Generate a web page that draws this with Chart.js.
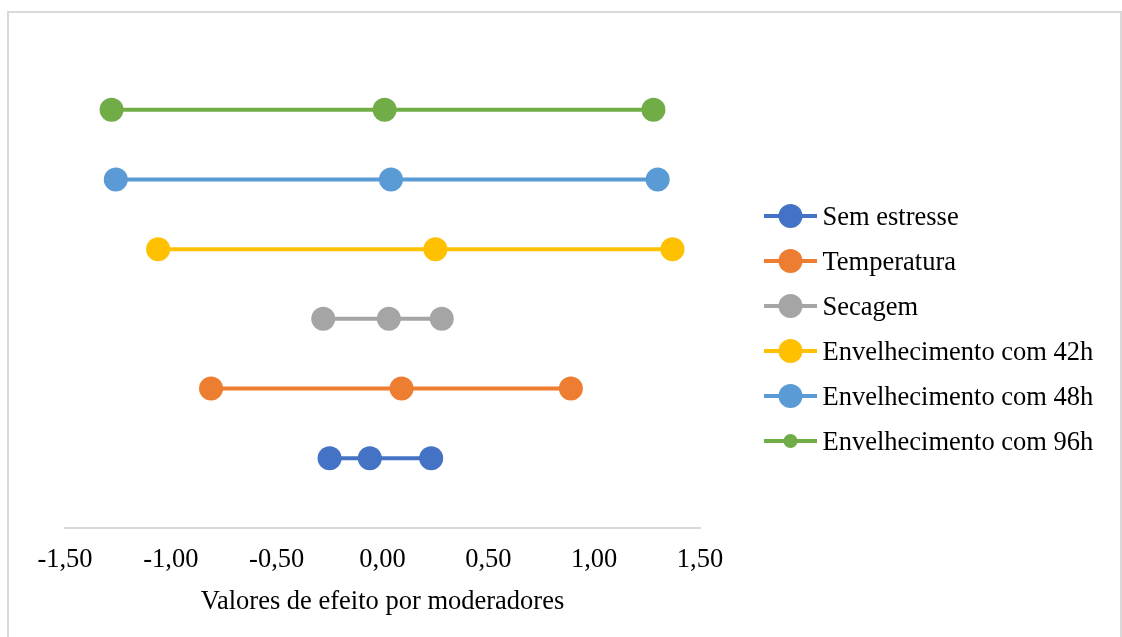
<!DOCTYPE html>
<html>
<head>
<meta charset="utf-8">
<title>Valores de efeito por moderadores</title>
<script src="https://cdn.jsdelivr.net/npm/chart.js@4/dist/chart.umd.min.js"></script>
<style>
  html, body { margin: 0; padding: 0; background: #ffffff; }
  #wrap { position: relative; width: 1122px; height: 637px; }
</style>
</head>
<body>
<div id="wrap"><canvas id="chart" width="1122" height="637"></canvas></div>
<script>
// Moderator groups, one row each (bottom to top)
const categories = [
  'Sem estresse',
  'Temperatura',
  'Secagem',
  'Envelhecimento com 42h',
  'Envelhecimento com 48h',
  'Envelhecimento com 96h'
];
const rowPositions = [1, 2, 3, 4, 5, 6];

// Effect values per moderator: lower limit, estimate, upper limit
const lowValues  = [-0.25, -0.81, -0.28, -1.06, -1.26, -1.28];
const midValues  = [-0.06,  0.09,  0.03,  0.25,  0.04,  0.01];
const highValues = [ 0.23,  0.89,  0.28,  1.37,  1.30,  1.28];

// Series colours
const seriesColors = ['#4472C4', '#ED7D31', '#A5A5A5', '#FFC000', '#5B9BD5', '#70AD47'];

// X axis tick range
const xTickMin = -1.5;
const xTickMax = 1.5;
const xTickStep = 0.5;

const axisTitle = 'Valores de efeito por moderadores';
const FONT = "'Liberation Serif', 'Times New Roman', serif";
const FONT_SIZE = 26.5;

const datasets = categories.map((name, i) => ({
  label: name,
  data: [
    { x: lowValues[i],  y: rowPositions[i] },
    { x: midValues[i],  y: rowPositions[i] },
    { x: highValues[i], y: rowPositions[i] }
  ],
  showLine: true,
  borderColor: seriesColors[i],
  backgroundColor: seriesColors[i],
  borderWidth: 4,
  pointRadius: 12,
  pointHoverRadius: 12,
  pointBorderWidth: 0,
  pointBackgroundColor: seriesColors[i],
  legendMarkerRadius: i === 5 ? 7 : 12
}));

// Frame around the whole figure
const framePlugin = {
  id: 'frame',
  beforeDraw(chart) {
    const ctx = chart.ctx;
    ctx.save();
    ctx.fillStyle = '#ffffff';
    ctx.fillRect(0, 0, chart.width, chart.height);
    ctx.strokeStyle = '#d9d9d9';
    ctx.lineWidth = 2;
    ctx.strokeRect(8, 12, 1113, 700);
    ctx.restore();
  }
};

// Legend with a line through each marker, placed right of the plot
const lineLegendPlugin = {
  id: 'lineLegend',
  afterDraw(chart) {
    const ctx = chart.ctx;
    const x0 = 764, x1 = 817, mx = 790.5, tx = 822.5;
    const top = 216, gap = 45;
    ctx.save();
    chart.data.datasets.forEach((ds, i) => {
      const y = top + i * gap;
      ctx.strokeStyle = ds.borderColor;
      ctx.lineWidth = 4;
      ctx.beginPath();
      ctx.moveTo(x0, y);
      ctx.lineTo(x1, y);
      ctx.stroke();
      ctx.fillStyle = ds.pointBackgroundColor;
      ctx.beginPath();
      ctx.arc(mx, y, ds.legendMarkerRadius, 0, Math.PI * 2);
      ctx.fill();
      ctx.fillStyle = '#000000';
      ctx.font = FONT_SIZE + 'px ' + FONT;
      ctx.textAlign = 'left';
      ctx.textBaseline = 'alphabetic';
      ctx.fillText(ds.label, tx, y + 8.5);
    });
    ctx.restore();
  }
};

new Chart(document.getElementById('chart'), {
  type: 'scatter',
  data: { datasets },
  plugins: [framePlugin, lineLegendPlugin],
  options: {
    responsive: false,
    animation: false,
    events: [],
    layout: { padding: { left: 65, right: 422, top: 40, bottom: 0 } },
    plugins: {
      legend: { display: false },
      tooltip: { enabled: false }
    },
    scales: {
      x: {
        type: 'linear',
        min: xTickMin,
        max: xTickMax,
        afterFit(scale) { scale.height = 109; },
        ticks: {
          stepSize: xTickStep,
          padding: 16,
          color: '#000000',
          font: { family: FONT, size: FONT_SIZE },
          maxRotation: 0,
          callback: (v) => Number(v).toFixed(2).replace('.', ',')
        },
        grid: { display: true, drawOnChartArea: false, drawTicks: false },
        border: { display: true, color: '#d9d9d9', width: 2 },
        title: {
          display: true,
          text: axisTitle,
          color: '#000000',
          font: { family: FONT, size: FONT_SIZE },
          padding: { top: 0, bottom: 19 }
        }
      },
      y: {
        type: 'linear',
        min: 0,
        max: 7,
        display: false
      }
    }
  }
});
</script>
</body>
</html>
